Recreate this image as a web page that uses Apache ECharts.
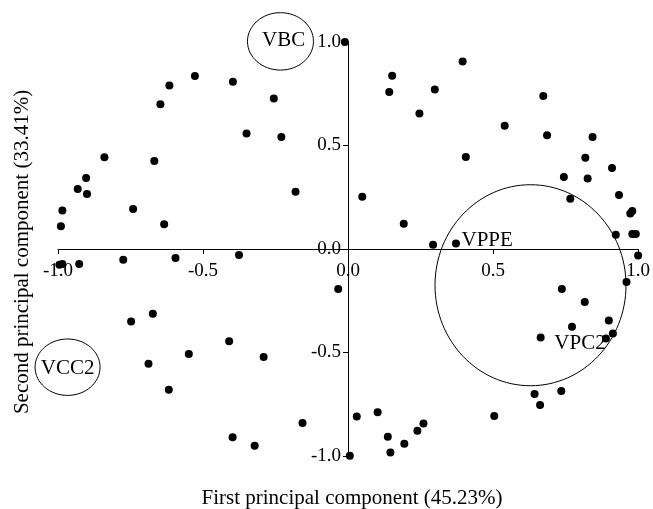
<!DOCTYPE html>
<html>
<head>
<meta charset="utf-8">
<script src="https://cdn.jsdelivr.net/npm/echarts@6/dist/echarts.min.js"></script>
<style>
  html, body { margin: 0; padding: 0; background: #fff; }
  #chart { width: 653px; height: 509px; }
</style>
</head>
<body>
<div id="chart"></div>
<script>
  // loadings on first (pc1) and second (pc2) principal components
  var pc1 = [
    -0.990, -0.985, -0.932, -0.903, -0.900, -0.840, -0.741, -0.668, -0.647, -0.616,
    -0.634, -0.528, -0.397, -0.350, -0.256, -0.230, -0.181, -0.011,
    -0.995, -0.985, -0.927, -0.775, -0.595, -0.376,
    -0.748, -0.673, -0.410, -0.549, -0.291, -0.688, -0.618, -0.157, -0.398, -0.322, -0.034,
    0.395, 0.152, 0.142, 0.299, 0.246, 0.673, 0.540, 0.686, 0.843, 0.406,
    0.818, 0.910, 0.744, 0.826, 0.049, 0.766, 0.934, 0.973, 0.980, 0.192,
    0.923, 0.980, 0.992, 0.293, 0.372,
    1.000, 0.960, 0.737, 0.816, 0.899, 0.772, 0.913, 0.889, 0.664, 0.735,
    0.643, 0.662, 0.504, 0.030, 0.102, 0.137, 0.146, 0.194, 0.239, 0.260, 0.006
  ];
  var pc2 = [
    0.110, 0.186, 0.290, 0.343, 0.266, 0.443, 0.193, 0.425, 0.699, 0.790,
    0.120, 0.836, 0.808, 0.558, 0.727, 0.541, 0.277, 1.000,
    -0.076, -0.072, -0.072, -0.052, -0.044, -0.029,
    -0.350, -0.313, -0.446, -0.507, -0.522, -0.554, -0.680, -0.841, -0.910, -0.950, -0.193,
    0.906, 0.837, 0.758, 0.770, 0.655, 0.739, 0.596, 0.549, 0.541, 0.444,
    0.441, 0.391, 0.348, 0.341, 0.253, 0.243, 0.261, 0.172, 0.183, 0.122,
    0.069, 0.072, 0.072, 0.021, 0.026,
    -0.032, -0.160, -0.193, -0.256, -0.345, -0.375, -0.408, -0.432, -0.427, -0.686,
    -0.700, -0.754, -0.807, -0.809, -0.789, -0.907, -0.983, -0.941, -0.878, -0.843, -0.999
  ];
  var tickValues = [-1.0, -0.5, 0.0, 0.5, 1.0];

  var xTitle = 'First principal component (45.23%)';
  var yTitle = 'Second principal component (33.41%)';

  // group annotations, in data coordinates
  var ellipseNotes = [
    { text: 'VBC',  x: -0.233, y: 1.003,  rx: 33, ry: 28.7, tx: -0.222, ty: 1.007 },
    { text: 'VCC2', x: -0.967, y: -0.571, rx: 32.5, ry: 28.2, tx: -0.967, ty: -0.577 }
  ];
  var bigCircle = { x: 0.629, y: -0.175, rx: 95.5, ry: 100.5 };
  var pointNotes = [
    { text: 'VPPE', x: 0.391, y: 0.040 },
    { text: 'VPC2', x: 0.711, y: -0.457 }
  ];

  var font = '"Liberation Serif", "Times New Roman", serif';

  var points = pc1.map(function (v, i) { return [v, pc2[i]]; });

  var chart = echarts.init(document.getElementById('chart'));

  function axisCommon(margin) {
    return {
      type: 'value',
      min: tickValues[0],
      max: tickValues[tickValues.length - 1],
      interval: 0.5,
      splitLine: { show: false },
      axisLine: { show: true, onZero: false, lineStyle: { color: '#000', width: 1 } },
      axisTick: { show: true, length: 5, lineStyle: { color: '#000' } },
      axisLabel: {
        show: true,
        margin: margin,
        color: '#000',
        fontFamily: font,
        fontSize: 19,
        formatter: function (v) { return v.toFixed(1); }
      }
    };
  }

  var grid = { left: 58, right: 14, top: 42, bottom: 53 };

  chart.setOption({
    animation: false,
    backgroundColor: '#fff',
    grid: grid,
    xAxis: axisCommon(13),
    yAxis: axisCommon(7),
    series: [{
      type: 'scatter',
      data: points,
      symbol: 'circle',
      symbolSize: 8,
      clip: false,
      itemStyle: { color: '#000', opacity: 1 }
    }]
  });

  // move both axes (with their labels) to cross at the origin
  var origin = chart.convertToPixel({ gridIndex: 0 }, [0, 0]);
  chart.setOption({
    xAxis: { offset: origin[1] - (509 - grid.bottom) },
    yAxis: { offset: grid.left - origin[0] }
  });

  var graphics = [];
  ellipseNotes.forEach(function (n) {
    var c = chart.convertToPixel({ gridIndex: 0 }, [n.x, n.y]);
    var t = chart.convertToPixel({ gridIndex: 0 }, [n.tx, n.ty]);
    graphics.push({
      type: 'ellipse',
      shape: { cx: c[0], cy: c[1], rx: n.rx, ry: n.ry },
      style: { fill: 'none', stroke: '#000', lineWidth: 1 }
    });
    graphics.push({
      type: 'text',
      x: t[0], y: t[1],
      style: { text: n.text, font: '21px ' + font, fill: '#000', align: 'center', verticalAlign: 'middle' }
    });
  });
  var bc = chart.convertToPixel({ gridIndex: 0 }, [bigCircle.x, bigCircle.y]);
  graphics.push({
    type: 'ellipse',
    shape: { cx: bc[0], cy: bc[1], rx: bigCircle.rx, ry: bigCircle.ry },
    style: { fill: 'none', stroke: '#000', lineWidth: 1 }
  });
  pointNotes.forEach(function (n) {
    var p = chart.convertToPixel({ gridIndex: 0 }, [n.x, n.y]);
    graphics.push({
      type: 'text',
      x: p[0], y: p[1],
      style: { text: n.text, font: '21px ' + font, fill: '#000', align: 'left', verticalAlign: 'middle' }
    });
  });
  // axis titles
  graphics.push({
    type: 'text',
    x: 352, y: 498,
    style: { text: xTitle, font: '21px ' + font, fill: '#000', align: 'center', verticalAlign: 'middle' }
  });
  graphics.push({
    type: 'text',
    x: 22, y: 252,
    rotation: Math.PI / 2,
    style: { text: yTitle, font: '21px ' + font, fill: '#000', align: 'center', verticalAlign: 'middle' }
  });

  chart.setOption({ graphic: graphics });
</script>
</body>
</html>
